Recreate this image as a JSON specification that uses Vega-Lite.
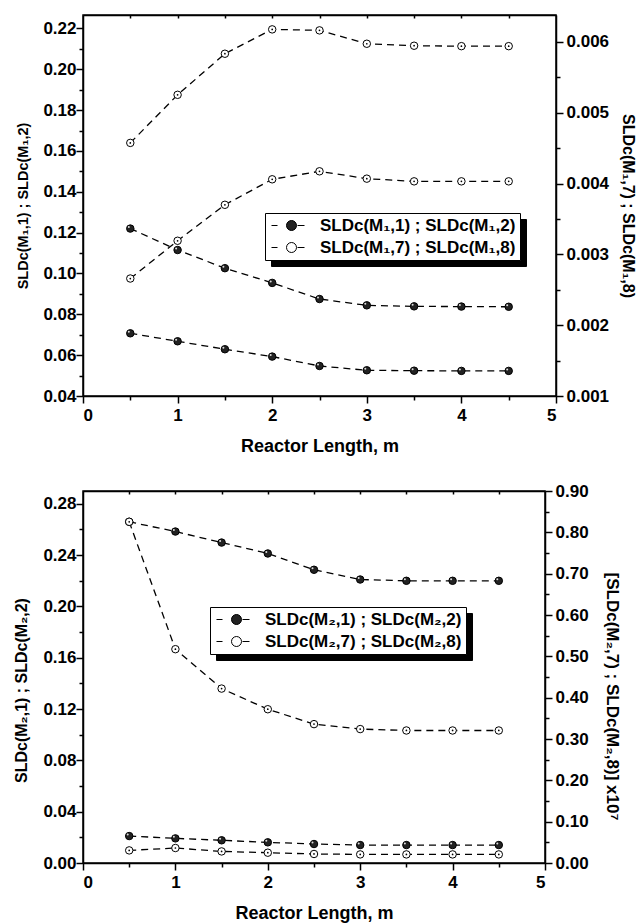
{
  "$schema": "https://vega.github.io/schema/vega-lite/v6.json",
  "padding": {"left": 13, "top": 13, "right": 0, "bottom": 0},
  "background": "white",
  "config": {
    "font": "Liberation Sans",
    "view": {"stroke": "black", "strokeWidth": 1.5},
    "axis": {
      "labelFont": "Liberation Sans", "labelFontWeight": "bold", "labelFontSize": 17, "labelColor": "black",
      "titleFont": "Liberation Sans", "titleFontWeight": "bold", "titleColor": "black",
      "domainColor": "black", "domainWidth": 1.5, "tickColor": "black", "tickWidth": 1.5, "grid": false
    },
    "legend": {
      "labelFont": "Liberation Sans", "labelFontWeight": "bold", "labelFontSize": 17, "labelColor": "black", "labelLimit": 0
    }
  },
  "datasets": {
    "p1": [
      {"x": 0.5, "v": 0.122, "curve": "a", "axis": "L", "series": "SLDc(M₁,1) ; SLDc(M₁,2)"},
      {"x": 1.0, "v": 0.1115, "curve": "a", "axis": "L", "series": "SLDc(M₁,1) ; SLDc(M₁,2)"},
      {"x": 1.5, "v": 0.1026, "curve": "a", "axis": "L", "series": "SLDc(M₁,1) ; SLDc(M₁,2)"},
      {"x": 2.0, "v": 0.0954, "curve": "a", "axis": "L", "series": "SLDc(M₁,1) ; SLDc(M₁,2)"},
      {"x": 2.5, "v": 0.0875, "curve": "a", "axis": "L", "series": "SLDc(M₁,1) ; SLDc(M₁,2)"},
      {"x": 3.0, "v": 0.0844, "curve": "a", "axis": "L", "series": "SLDc(M₁,1) ; SLDc(M₁,2)"},
      {"x": 3.5, "v": 0.0839, "curve": "a", "axis": "L", "series": "SLDc(M₁,1) ; SLDc(M₁,2)"},
      {"x": 4.0, "v": 0.0838, "curve": "a", "axis": "L", "series": "SLDc(M₁,1) ; SLDc(M₁,2)"},
      {"x": 4.5, "v": 0.0837, "curve": "a", "axis": "L", "series": "SLDc(M₁,1) ; SLDc(M₁,2)"},
      {"x": 0.5, "v": 0.0707, "curve": "b", "axis": "L", "series": "SLDc(M₁,1) ; SLDc(M₁,2)"},
      {"x": 1.0, "v": 0.0668, "curve": "b", "axis": "L", "series": "SLDc(M₁,1) ; SLDc(M₁,2)"},
      {"x": 1.5, "v": 0.0629, "curve": "b", "axis": "L", "series": "SLDc(M₁,1) ; SLDc(M₁,2)"},
      {"x": 2.0, "v": 0.0593, "curve": "b", "axis": "L", "series": "SLDc(M₁,1) ; SLDc(M₁,2)"},
      {"x": 2.5, "v": 0.0547, "curve": "b", "axis": "L", "series": "SLDc(M₁,1) ; SLDc(M₁,2)"},
      {"x": 3.0, "v": 0.0526, "curve": "b", "axis": "L", "series": "SLDc(M₁,1) ; SLDc(M₁,2)"},
      {"x": 3.5, "v": 0.0524, "curve": "b", "axis": "L", "series": "SLDc(M₁,1) ; SLDc(M₁,2)"},
      {"x": 4.0, "v": 0.0523, "curve": "b", "axis": "L", "series": "SLDc(M₁,1) ; SLDc(M₁,2)"},
      {"x": 4.5, "v": 0.0523, "curve": "b", "axis": "L", "series": "SLDc(M₁,1) ; SLDc(M₁,2)"},
      {"x": 0.5, "v": 0.004574, "curve": "c", "axis": "R", "series": "SLDc(M₁,7) ; SLDc(M₁,8)"},
      {"x": 1.0, "v": 0.005253, "curve": "c", "axis": "R", "series": "SLDc(M₁,7) ; SLDc(M₁,8)"},
      {"x": 1.5, "v": 0.005833, "curve": "c", "axis": "R", "series": "SLDc(M₁,7) ; SLDc(M₁,8)"},
      {"x": 2.0, "v": 0.006177, "curve": "c", "axis": "R", "series": "SLDc(M₁,7) ; SLDc(M₁,8)"},
      {"x": 2.5, "v": 0.006163, "curve": "c", "axis": "R", "series": "SLDc(M₁,7) ; SLDc(M₁,8)"},
      {"x": 3.0, "v": 0.005974, "curve": "c", "axis": "R", "series": "SLDc(M₁,7) ; SLDc(M₁,8)"},
      {"x": 3.5, "v": 0.005946, "curve": "c", "axis": "R", "series": "SLDc(M₁,7) ; SLDc(M₁,8)"},
      {"x": 4.0, "v": 0.00594, "curve": "c", "axis": "R", "series": "SLDc(M₁,7) ; SLDc(M₁,8)"},
      {"x": 4.5, "v": 0.00594, "curve": "c", "axis": "R", "series": "SLDc(M₁,7) ; SLDc(M₁,8)"},
      {"x": 0.5, "v": 0.002659, "curve": "d", "axis": "R", "series": "SLDc(M₁,7) ; SLDc(M₁,8)"},
      {"x": 1.0, "v": 0.003192, "curve": "d", "axis": "R", "series": "SLDc(M₁,7) ; SLDc(M₁,8)"},
      {"x": 1.5, "v": 0.0037, "curve": "d", "axis": "R", "series": "SLDc(M₁,7) ; SLDc(M₁,8)"},
      {"x": 2.0, "v": 0.00406, "curve": "d", "axis": "R", "series": "SLDc(M₁,7) ; SLDc(M₁,8)"},
      {"x": 2.5, "v": 0.004173, "curve": "d", "axis": "R", "series": "SLDc(M₁,7) ; SLDc(M₁,8)"},
      {"x": 3.0, "v": 0.004069, "curve": "d", "axis": "R", "series": "SLDc(M₁,7) ; SLDc(M₁,8)"},
      {"x": 3.5, "v": 0.004031, "curve": "d", "axis": "R", "series": "SLDc(M₁,7) ; SLDc(M₁,8)"},
      {"x": 4.0, "v": 0.004031, "curve": "d", "axis": "R", "series": "SLDc(M₁,7) ; SLDc(M₁,8)"},
      {"x": 4.5, "v": 0.004031, "curve": "d", "axis": "R", "series": "SLDc(M₁,7) ; SLDc(M₁,8)"}
    ],
    "p2": [
      {"x": 0.5, "v": 0.266, "curve": "a", "axis": "L", "series": "SLDc(M₂,1) ; SLDc(M₂,2)"},
      {"x": 1.0, "v": 0.2584, "curve": "a", "axis": "L", "series": "SLDc(M₂,1) ; SLDc(M₂,2)"},
      {"x": 1.5, "v": 0.2498, "curve": "a", "axis": "L", "series": "SLDc(M₂,1) ; SLDc(M₂,2)"},
      {"x": 2.0, "v": 0.2413, "curve": "a", "axis": "L", "series": "SLDc(M₂,1) ; SLDc(M₂,2)"},
      {"x": 2.5, "v": 0.2286, "curve": "a", "axis": "L", "series": "SLDc(M₂,1) ; SLDc(M₂,2)"},
      {"x": 3.0, "v": 0.221, "curve": "a", "axis": "L", "series": "SLDc(M₂,1) ; SLDc(M₂,2)"},
      {"x": 3.5, "v": 0.22, "curve": "a", "axis": "L", "series": "SLDc(M₂,1) ; SLDc(M₂,2)"},
      {"x": 4.0, "v": 0.22, "curve": "a", "axis": "L", "series": "SLDc(M₂,1) ; SLDc(M₂,2)"},
      {"x": 4.5, "v": 0.22, "curve": "a", "axis": "L", "series": "SLDc(M₂,1) ; SLDc(M₂,2)"},
      {"x": 0.5, "v": 0.021, "curve": "b", "axis": "L", "series": "SLDc(M₂,1) ; SLDc(M₂,2)"},
      {"x": 1.0, "v": 0.0192, "curve": "b", "axis": "L", "series": "SLDc(M₂,1) ; SLDc(M₂,2)"},
      {"x": 1.5, "v": 0.0177, "curve": "b", "axis": "L", "series": "SLDc(M₂,1) ; SLDc(M₂,2)"},
      {"x": 2.0, "v": 0.0161, "curve": "b", "axis": "L", "series": "SLDc(M₂,1) ; SLDc(M₂,2)"},
      {"x": 2.5, "v": 0.0148, "curve": "b", "axis": "L", "series": "SLDc(M₂,1) ; SLDc(M₂,2)"},
      {"x": 3.0, "v": 0.014, "curve": "b", "axis": "L", "series": "SLDc(M₂,1) ; SLDc(M₂,2)"},
      {"x": 3.5, "v": 0.014, "curve": "b", "axis": "L", "series": "SLDc(M₂,1) ; SLDc(M₂,2)"},
      {"x": 4.0, "v": 0.014, "curve": "b", "axis": "L", "series": "SLDc(M₂,1) ; SLDc(M₂,2)"},
      {"x": 4.5, "v": 0.014, "curve": "b", "axis": "L", "series": "SLDc(M₂,1) ; SLDc(M₂,2)"},
      {"x": 0.5, "v": 0.8255, "curve": "c", "axis": "R", "series": "SLDc(M₂,7) ; SLDc(M₂,8)"},
      {"x": 1.0, "v": 0.5173, "curve": "c", "axis": "R", "series": "SLDc(M₂,7) ; SLDc(M₂,8)"},
      {"x": 1.5, "v": 0.422, "curve": "c", "axis": "R", "series": "SLDc(M₂,7) ; SLDc(M₂,8)"},
      {"x": 2.0, "v": 0.372, "curve": "c", "axis": "R", "series": "SLDc(M₂,7) ; SLDc(M₂,8)"},
      {"x": 2.5, "v": 0.336, "curve": "c", "axis": "R", "series": "SLDc(M₂,7) ; SLDc(M₂,8)"},
      {"x": 3.0, "v": 0.324, "curve": "c", "axis": "R", "series": "SLDc(M₂,7) ; SLDc(M₂,8)"},
      {"x": 3.5, "v": 0.3206, "curve": "c", "axis": "R", "series": "SLDc(M₂,7) ; SLDc(M₂,8)"},
      {"x": 4.0, "v": 0.3206, "curve": "c", "axis": "R", "series": "SLDc(M₂,7) ; SLDc(M₂,8)"},
      {"x": 4.5, "v": 0.3206, "curve": "c", "axis": "R", "series": "SLDc(M₂,7) ; SLDc(M₂,8)"},
      {"x": 0.5, "v": 0.0305, "curve": "d", "axis": "R", "series": "SLDc(M₂,7) ; SLDc(M₂,8)"},
      {"x": 1.0, "v": 0.0363, "curve": "d", "axis": "R", "series": "SLDc(M₂,7) ; SLDc(M₂,8)"},
      {"x": 1.5, "v": 0.028, "curve": "d", "axis": "R", "series": "SLDc(M₂,7) ; SLDc(M₂,8)"},
      {"x": 2.0, "v": 0.0249, "curve": "d", "axis": "R", "series": "SLDc(M₂,7) ; SLDc(M₂,8)"},
      {"x": 2.5, "v": 0.0218, "curve": "d", "axis": "R", "series": "SLDc(M₂,7) ; SLDc(M₂,8)"},
      {"x": 3.0, "v": 0.0208, "curve": "d", "axis": "R", "series": "SLDc(M₂,7) ; SLDc(M₂,8)"},
      {"x": 3.5, "v": 0.0208, "curve": "d", "axis": "R", "series": "SLDc(M₂,7) ; SLDc(M₂,8)"},
      {"x": 4.0, "v": 0.0208, "curve": "d", "axis": "R", "series": "SLDc(M₂,7) ; SLDc(M₂,8)"},
      {"x": 4.5, "v": 0.0208, "curve": "d", "axis": "R", "series": "SLDc(M₂,7) ; SLDc(M₂,8)"}
    ]
  },
  "vconcat": [
    {
      "width": 473, "height": 381,
      "data": {"name": "p1"},
      "layer": [
        {
          "transform": [{"filter": "datum.axis == 'L'"}],
          "encoding": {
            "x": {"field": "x", "type": "quantitative", "scale": {"domain": [0, 5], "nice": false},
              "axis": {"orient": "bottom", "values": [0, 0.5, 1, 1.5, 2, 2.5, 3, 3.5, 4, 4.5, 5],
                "labelExpr": "datum.value % 1 == 0 ? format(datum.value, 'd') : ''",
                "tickSize": {"condition": {"test": "datum.value % 1 == 0", "value": 7}, "value": 4},
                "labelPadding": 4, "title": "Reactor Length, m", "titleFontSize": 18, "titlePadding": 14}},
            "y": {"field": "v", "type": "quantitative", "scale": {"domain": [0.04, 0.2266], "nice": false, "zero": false},
              "axis": {"orient": "left", "values": [0.04, 0.05, 0.06, 0.07, 0.08, 0.09, 0.1, 0.11, 0.12, 0.13, 0.14, 0.15, 0.16, 0.17, 0.18, 0.19, 0.2, 0.21, 0.22],
                "labelExpr": "round(datum.value * 100) % 2 == 0 ? format(datum.value, '.2f') : ''",
                "tickSize": {"condition": {"test": "round(datum.value * 100) % 2 == 0", "value": 7}, "value": 4},
                "labelPadding": 0, "title": "SLDc(M₁,1) ; SLDc(M₁,2)", "titleFontSize": 14.5, "titlePadding": 12}}
          },
          "layer": [
            {"mark": {"type": "line", "strokeDash": [7, 5], "strokeWidth": 1.3, "color": "black"},
              "encoding": {"detail": {"field": "curve"},
                "strokeDash": {"field": "series", "type": "nominal",
                  "scale": {"domain": ["SLDc(M₁,7) ; SLDc(M₁,8)", "SLDc(M₁,1) ; SLDc(M₁,2)"], "range": [[7, 5], [7, 5]]},
                  "legend": {"orient": "none", "legendX": 188, "legendY": 204, "title": null, "fillColor": "black", "strokeColor": "black",
                    "padding": 4, "rowPadding": 4, "symbolOpacity": 0, "symbolType": "M-4,0L-2.8,0M1.2,0L2.6,0M1,0A1,1,0,1,1,-1,0A1,1,0,1,1,1,0Z",
                    "symbolSize": 100, "symbolOffset": 14, "labelOffset": 20, "labelColor": "black", "zindex": 0}}}},
            {"mark": {"type": "point", "filled": true, "stroke": "black", "strokeWidth": 1, "size": 56, "opacity": 1},
              "encoding": {
                "fill": {"field": "series", "type": "nominal",
                  "scale": {"domain": ["SLDc(M₁,1) ; SLDc(M₁,2)", "SLDc(M₁,7) ; SLDc(M₁,8)"], "range": ["#222222", "white"]},
                  "legend": {"orient": "none", "legendX": 182, "legendY": 198, "title": null, "fillColor": "white", "strokeColor": "black",
                    "padding": 4, "rowPadding": 4, "symbolType": "M-4,0L-2.8,0M1.2,0L2.6,0M1,0A1,1,0,1,1,-1,0A1,1,0,1,1,1,0Z",
                    "symbolSize": 100, "symbolOffset": 14, "labelOffset": 20, "symbolStrokeColor": "black", "symbolStrokeWidth": 1, "zindex": 1}}}},
            {"mark": {"type": "point", "filled": true, "color": "white", "size": 4, "opacity": 0.85, "xOffset": -1.5, "yOffset": -1.5}}
          ]
        },
        {
          "transform": [{"filter": "datum.axis == 'R'"}],
          "encoding": {
            "x": {"field": "x", "type": "quantitative", "scale": {"domain": [0, 5], "nice": false},
              "axis": {"orient": "top", "values": [0.5, 1, 1.5, 2, 2.5, 3, 3.5, 4, 4.5], "labels": false, "tickSize": -3, "title": null}},
            "y": {"field": "v", "type": "quantitative", "scale": {"domain": [0.001, 0.00638], "nice": false, "zero": false},
              "axis": {"orient": "right", "values": [0.001, 0.0015, 0.002, 0.0025, 0.003, 0.0035, 0.004, 0.0045, 0.005, 0.0055, 0.006],
                "labelExpr": "round(datum.value * 2000) % 2 == 0 ? format(datum.value, '.3f') : ''",
                "tickSize": {"condition": {"test": "round(datum.value * 2000) % 2 == 0", "value": 7}, "value": 4},
                "labelPadding": 3, "title": "SLDc(M₁,7) ; SLDc(M₁,8)", "titleFontSize": 16, "titlePadding": 11}}
          },
          "layer": [
            {"mark": {"type": "line", "strokeDash": [7, 5], "strokeWidth": 1.3, "color": "black"},
              "encoding": {"detail": {"field": "curve"},
                "strokeDash": {"field": "series", "type": "nominal",
                  "scale": {"domain": ["SLDc(M₁,7) ; SLDc(M₁,8)", "SLDc(M₁,1) ; SLDc(M₁,2)"], "range": [[7, 5], [7, 5]]},
                  "legend": {"orient": "none", "legendX": 188, "legendY": 204, "title": null, "fillColor": "black", "strokeColor": "black",
                    "padding": 4, "rowPadding": 4, "symbolOpacity": 0, "symbolType": "M-4,0L-2.8,0M1.2,0L2.6,0M1,0A1,1,0,1,1,-1,0A1,1,0,1,1,1,0Z",
                    "symbolSize": 100, "symbolOffset": 14, "labelOffset": 20, "labelColor": "black", "zindex": 0}}}},
            {"mark": {"type": "point", "filled": true, "stroke": "black", "strokeWidth": 1, "size": 56, "opacity": 1},
              "encoding": {
                "fill": {"field": "series", "type": "nominal",
                  "scale": {"domain": ["SLDc(M₁,1) ; SLDc(M₁,2)", "SLDc(M₁,7) ; SLDc(M₁,8)"], "range": ["#222222", "white"]},
                  "legend": {"orient": "none", "legendX": 182, "legendY": 198, "title": null, "fillColor": "white", "strokeColor": "black",
                    "padding": 4, "rowPadding": 4, "symbolType": "M-4,0L-2.8,0M1.2,0L2.6,0M1,0A1,1,0,1,1,-1,0A1,1,0,1,1,1,0Z",
                    "symbolSize": 100, "symbolOffset": 14, "labelOffset": 20, "symbolStrokeColor": "black", "symbolStrokeWidth": 1, "zindex": 1}}}},
            {"mark": {"type": "point", "filled": true, "color": "black", "size": 3, "opacity": 1}}
          ]
        }
      ],
      "resolve": {"scale": {"y": "independent"}, "axis": {"x": "independent"}}
    },
    {
      "width": 462, "height": 372,
      "data": {"name": "p2"},
      "layer": [
        {
          "transform": [{"filter": "datum.axis == 'L'"}],
          "encoding": {
            "x": {"field": "x", "type": "quantitative", "scale": {"domain": [0, 5], "nice": false},
              "axis": {"orient": "bottom", "values": [0, 0.5, 1, 1.5, 2, 2.5, 3, 3.5, 4, 4.5, 5],
                "labelExpr": "datum.value % 1 == 0 ? format(datum.value, 'd') : ''",
                "tickSize": {"condition": {"test": "datum.value % 1 == 0", "value": 7}, "value": 4},
                "labelPadding": 4, "title": "Reactor Length, m", "titleFontSize": 18, "titlePadding": 14}},
            "y": {"field": "v", "type": "quantitative", "scale": {"domain": [0, 0.29], "nice": false, "zero": false},
              "axis": {"orient": "left", "values": [0, 0.02, 0.04, 0.06, 0.08, 0.1, 0.12, 0.14, 0.16, 0.18, 0.2, 0.22, 0.24, 0.26, 0.28],
                "labelExpr": "round(datum.value * 50) % 2 == 0 ? format(datum.value, '.2f') : ''",
                "tickSize": {"condition": {"test": "round(datum.value * 50) % 2 == 0", "value": 7}, "value": 4},
                "labelPadding": 0, "title": "SLDc(M₂,1) ; SLDc(M₂,2)", "titleFontSize": 16, "titlePadding": 13, "titleY": 199}}
          },
          "layer": [
            {"mark": {"type": "line", "strokeDash": [7, 5], "strokeWidth": 1.3, "color": "black"},
              "encoding": {"detail": {"field": "curve"},
                "strokeDash": {"field": "series", "type": "nominal",
                  "scale": {"domain": ["SLDc(M₂,7) ; SLDc(M₂,8)", "SLDc(M₂,1) ; SLDc(M₂,2)"], "range": [[7, 5], [7, 5]]},
                  "legend": {"orient": "none", "legendX": 133, "legendY": 122, "title": null, "fillColor": "black", "strokeColor": "black",
                    "padding": 4, "rowPadding": 4, "symbolOpacity": 0, "symbolType": "M-4,0L-2.8,0M1.2,0L2.6,0M1,0A1,1,0,1,1,-1,0A1,1,0,1,1,1,0Z",
                    "symbolSize": 100, "symbolOffset": 14, "labelOffset": 20, "labelColor": "black", "zindex": 0}}}},
            {"mark": {"type": "point", "filled": true, "stroke": "black", "strokeWidth": 1, "size": 56, "opacity": 1},
              "encoding": {
                "fill": {"field": "series", "type": "nominal",
                  "scale": {"domain": ["SLDc(M₂,1) ; SLDc(M₂,2)", "SLDc(M₂,7) ; SLDc(M₂,8)"], "range": ["#222222", "white"]},
                  "legend": {"orient": "none", "legendX": 127, "legendY": 116, "title": null, "fillColor": "white", "strokeColor": "black",
                    "padding": 4, "rowPadding": 4, "symbolType": "M-4,0L-2.8,0M1.2,0L2.6,0M1,0A1,1,0,1,1,-1,0A1,1,0,1,1,1,0Z",
                    "symbolSize": 100, "symbolOffset": 14, "labelOffset": 20, "symbolStrokeColor": "black", "symbolStrokeWidth": 1, "zindex": 1}}}},
            {"mark": {"type": "point", "filled": true, "color": "white", "size": 4, "opacity": 0.85, "xOffset": -1.5, "yOffset": -1.5}}
          ]
        },
        {
          "transform": [{"filter": "datum.axis == 'R'"}],
          "encoding": {
            "x": {"field": "x", "type": "quantitative", "scale": {"domain": [0, 5], "nice": false},
              "axis": {"orient": "top", "values": [0.5, 1, 1.5, 2, 2.5, 3, 3.5, 4, 4.5], "labels": false, "tickSize": -3, "title": null}},
            "y": {"field": "v", "type": "quantitative", "scale": {"domain": [0, 0.9], "nice": false, "zero": false},
              "axis": {"orient": "right", "values": [0, 0.05, 0.1, 0.15, 0.2, 0.25, 0.3, 0.35, 0.4, 0.45, 0.5, 0.55, 0.6, 0.65, 0.7, 0.75, 0.8, 0.85, 0.9],
                "labelExpr": "round(datum.value * 20) % 2 == 0 ? format(datum.value, '.2f') : ''",
                "tickSize": {"condition": {"test": "round(datum.value * 20) % 2 == 0", "value": 7}, "value": 4},
                "labelPadding": 3, "title": "[SLDc(M₂,7) ; SLDc(M₂,8)] x10⁷", "titleFontSize": 17, "titlePadding": 14, "titleY": 205}}
          },
          "layer": [
            {"mark": {"type": "line", "strokeDash": [7, 5], "strokeWidth": 1.3, "color": "black"},
              "encoding": {"detail": {"field": "curve"},
                "strokeDash": {"field": "series", "type": "nominal",
                  "scale": {"domain": ["SLDc(M₂,7) ; SLDc(M₂,8)", "SLDc(M₂,1) ; SLDc(M₂,2)"], "range": [[7, 5], [7, 5]]},
                  "legend": {"orient": "none", "legendX": 133, "legendY": 122, "title": null, "fillColor": "black", "strokeColor": "black",
                    "padding": 4, "rowPadding": 4, "symbolOpacity": 0, "symbolType": "M-4,0L-2.8,0M1.2,0L2.6,0M1,0A1,1,0,1,1,-1,0A1,1,0,1,1,1,0Z",
                    "symbolSize": 100, "symbolOffset": 14, "labelOffset": 20, "labelColor": "black", "zindex": 0}}}},
            {"mark": {"type": "point", "filled": true, "stroke": "black", "strokeWidth": 1, "size": 56, "opacity": 1},
              "encoding": {
                "fill": {"field": "series", "type": "nominal",
                  "scale": {"domain": ["SLDc(M₂,1) ; SLDc(M₂,2)", "SLDc(M₂,7) ; SLDc(M₂,8)"], "range": ["#222222", "white"]},
                  "legend": {"orient": "none", "legendX": 127, "legendY": 116, "title": null, "fillColor": "white", "strokeColor": "black",
                    "padding": 4, "rowPadding": 4, "symbolType": "M-4,0L-2.8,0M1.2,0L2.6,0M1,0A1,1,0,1,1,-1,0A1,1,0,1,1,1,0Z",
                    "symbolSize": 100, "symbolOffset": 14, "labelOffset": 20, "symbolStrokeColor": "black", "symbolStrokeWidth": 1, "zindex": 1}}}},
            {"mark": {"type": "point", "filled": true, "color": "black", "size": 3, "opacity": 1}}
          ]
        }
      ],
      "resolve": {"scale": {"y": "independent"}, "axis": {"x": "independent"}}
    }
  ],
  "spacing": 25,
  "resolve": {"scale": {"fill": "independent", "strokeDash": "independent", "y": "independent"}}
}
